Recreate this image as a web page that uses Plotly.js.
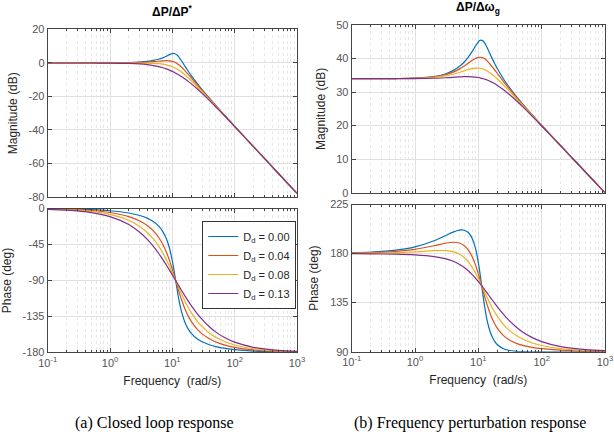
<!DOCTYPE html>
<html><head><meta charset="utf-8">
<script src="https://cdn.plot.ly/plotly-3.0.1.min.js"></script>
<style>html,body{margin:0;padding:0;background:#fff}#chart{width:614px;height:440px}</style>
</head><body><div id="chart"></div>
<script>
// Frequency points (rad/s)
const freq = [0.1,0.2,0.5,1,2,3,4,5,6,7,8,9,10,10.5,11,12,13,14,16,18,20,25,30,40,50,70,100,200,500,1000];

// (a) Closed loop response: magnitude (dB)
const magCL_D000 = [0,0,0.01,0.06,0.23,0.53,0.96,1.53,2.23,3.08,4.03,4.97,5.60,5.68,5.54,4.62,3.09,1.34,-2.03,-4.92,-7.37,-12.20,-15.87,-21.35,-25.45,-31.49,-37.78,-49.89,-65.83,-77.88];
const magCL_D004 = [0,0,0.01,0.04,0.14,0.31,0.53,0.78,1.04,1.26,1.37,1.29,0.97,0.72,0.40,-0.41,-1.39,-2.46,-4.68,-6.81,-8.78,-12.98,-16.37,-21.61,-25.61,-31.56,-37.82,-49.90,-65.83,-77.88];
const magCL_D008 = [0,0,0,0,-0.01,-0.04,-0.11,-0.22,-0.41,-0.70,-1.10,-1.61,-2.23,-2.57,-2.94,-3.72,-4.55,-5.40,-7.13,-8.82,-10.43,-14.03,-17.09,-22.01,-25.86,-31.69,-37.88,-49.92,-65.84,-77.88];
const magCL_D013 = [0,0,-0.02,-0.07,-0.27,-0.59,-1.03,-1.55,-2.16,-2.82,-3.53,-4.27,-5.02,-5.41,-5.79,-6.56,-7.32,-8.08,-9.56,-10.97,-12.33,-15.41,-18.11,-22.63,-26.27,-31.90,-37.99,-49.95,-65.84,-77.88];

// (a) Closed loop response: phase (deg)
const phaseCL_D000 = [-0.27,-0.55,-1.37,-2.76,-5.64,-8.77,-12.33,-16.55,-21.76,-28.49,-37.47,-49.63,-65.60,-74.77,-84.31,-102.55,-117.51,-128.65,-142.73,-150.77,-155.86,-162.95,-166.66,-170.59,-172.67,-174.89,-176.46,-178.25,-179.30,-179.65];
const phaseCL_D004 = [-0.50,-0.99,-2.49,-5.00,-10.15,-15.64,-21.63,-28.33,-35.93,-44.57,-54.28,-64.90,-75.96,-81.47,-86.86,-97.00,-106.01,-113.78,-125.91,-134.56,-140.88,-150.90,-156.73,-163.26,-166.86,-170.77,-173.60,-176.82,-178.73,-179.37];
const phaseCL_D008 = [-0.73,-1.46,-3.65,-7.32,-14.74,-22.36,-30.23,-38.39,-46.79,-55.36,-63.93,-72.32,-80.34,-84.17,-87.86,-94.77,-101.05,-106.69,-116.23,-123.83,-129.92,-140.72,-147.70,-156.15,-161.07,-166.58,-170.64,-175.33,-178.13,-179.07];
const phaseCL_D013 = [-1.01,-2.03,-5.07,-10.12,-20.07,-29.74,-38.99,-47.74,-55.93,-63.56,-70.59,-77.07,-83.02,-85.80,-88.46,-93.44,-98.00,-102.18,-109.54,-115.76,-121.07,-131.36,-138.72,-148.45,-154.56,-161.66,-167.11,-173.53,-177.41,-178.70];

// (b) Frequency perturbation response: magnitude (dB)
const magFP_D000 = [34.00,34.00,34.04,34.16,34.63,35.39,36.39,37.60,38.97,40.50,42.12,43.71,44.97,45.35,45.51,45.17,44.19,42.96,40.57,38.58,36.95,33.91,31.74,28.68,26.48,23.32,20.11,14.01,6.03,0.00];
const magFP_D004 = [34.00,34.00,34.04,34.14,34.54,35.17,35.96,36.85,37.78,38.68,39.46,40.03,40.34,40.39,40.37,40.14,39.71,39.16,37.92,36.69,35.54,33.13,31.24,28.42,26.32,23.25,20.07,14.00,6.03,0.00];
const magFP_D008 = [34.00,34.00,34.03,34.10,34.39,34.82,35.32,35.85,36.33,36.72,36.99,37.13,37.14,37.10,37.03,36.83,36.55,36.22,35.47,34.68,33.89,32.08,30.52,28.02,26.07,23.12,20.01,13.98,6.02,0.00];
const magFP_D013 = [34.00,34.00,34.01,34.03,34.13,34.27,34.40,34.52,34.58,34.60,34.56,34.47,34.35,34.27,34.18,33.99,33.78,33.54,33.04,32.53,31.99,30.70,29.50,27.40,25.66,22.91,19.90,13.95,6.02,0.00];

// (b) Frequency perturbation response: phase (deg)
const phaseFP_D000 = [180.63,181.24,183.10,186.12,191.71,196.34,199.68,201.45,201.39,199.07,193.87,184.95,171.78,163.87,155.50,139.38,126.28,116.78,105.47,99.66,96.40,92.69,91.30,90.32,90.04,89.89,89.88,89.92,89.97,89.98];
const phaseFP_D004 = [180.40,180.80,181.98,183.88,187.20,189.47,190.38,189.67,187.22,182.99,177.06,169.68,161.42,157.17,152.95,144.93,137.78,131.65,122.29,115.87,111.38,104.74,101.23,97.65,95.85,94.01,92.74,91.35,90.54,90.26];
const phaseFP_D008 = [180.17,180.33,180.82,181.56,182.61,182.75,181.78,179.61,176.36,172.20,167.41,162.26,157.04,154.47,151.95,147.16,142.74,138.74,131.97,126.60,122.34,114.92,110.26,104.76,101.64,98.20,95.70,92.84,91.14,90.56];
const phaseFP_D013 = [179.89,179.76,179.40,178.76,177.28,175.37,173.02,170.26,167.22,164.00,160.75,157.51,154.36,152.84,151.35,148.49,145.79,143.25,138.66,134.67,131.19,124.28,119.24,112.46,108.15,103.12,99.23,94.64,91.86,90.93];

// Labels and ticks
const seriesLabels = ['D<sub>d</sub> = 0.00','D<sub>d</sub> = 0.04','D<sub>d</sub> = 0.08','D<sub>d</sub> = 0.13'];
const xTickVals = [0.1, 1, 10, 100, 1000];
const xTickText = ['10<sup>-1</sup>','10<sup>0</sup>','10<sup>1</sup>','10<sup>2</sup>','10<sup>3</sup>'];
const magCLTicks = [-80,-60,-40,-20,0,20];
const phaseCLTicks = [-180,-135,-90,-45,0];
const magFPTicks = [0,10,20,30,40,50];
const phaseFPTicks = [90,135,180,225];
const titleCL = '<b>ΔP/ΔP<sup>*</sup></b>';
const titleFP = '<b>ΔP/Δω<sub>g</sub></b>';
const captionA = '(a) Closed loop response';
const captionB = '(b) Frequency perturbation response';

// Styles
const colors = ['#0072BD','#D95319','#EDB120','#7E2F8E'];
const axisColor = '#444444';
const sans = 'Liberation Sans, Arial, Helvetica, sans-serif';

const panels = [
  {xa:'x',  ya:'y',  data:[magCL_D000,magCL_D004,magCL_D008,magCL_D013], legend:false},
  {xa:'x2', ya:'y2', data:[phaseCL_D000,phaseCL_D004,phaseCL_D008,phaseCL_D013], legend:true},
  {xa:'x3', ya:'y3', data:[magFP_D000,magFP_D004,magFP_D008,magFP_D013], legend:false},
  {xa:'x4', ya:'y4', data:[phaseFP_D000,phaseFP_D004,phaseFP_D008,phaseFP_D013], legend:false}
];
const traces = [];
panels.forEach(p => {
  p.data.forEach((ys, i) => {
    traces.push({
      x: freq, y: ys, xaxis: p.xa, yaxis: p.ya, type: 'scatter', mode: 'lines',
      name: seriesLabels[i], showlegend: p.legend,
      line: {color: colors[i], width: 1.2, shape: 'spline', smoothing: 0.8},
      hoverinfo: 'skip'
    });
  });
});

function xAx(domain, anchor, withLabels) {
  const ax = {
    type: 'log', domain: domain, anchor: anchor, range: [-1, 3],
    tickmode: 'array', tickvals: xTickVals, ticktext: xTickText,
    showticklabels: withLabels, ticks: 'inside', ticklen: 4, tickcolor: axisColor,
    showline: true, mirror: 'allticks', linecolor: axisColor, linewidth: 1,
    showgrid: true, gridcolor: '#e0e0e0', gridwidth: 1, zeroline: false,
    tickfont: {family: sans, size: 11, color: '#555555'},
    minor: {tickmode: 'linear', dtick: 'D1', ticks: 'inside', ticklen: 2, tickcolor: axisColor,
            showgrid: true, gridcolor: '#e8e8e8', griddash: 'dot', gridwidth: 1}
  };
  if (withLabels) ax.title = {text: 'Frequency\u00a0 (rad/s)', standoff: 8, font: {family: sans, size: 12, color: '#262626'}};
  return ax;
}
function yAx(domain, anchor, range, ticks, title) {
  return {
    domain: domain, anchor: anchor, range: range,
    tickmode: 'array', tickvals: ticks, ticktext: ticks.map(String),
    ticks: 'inside', ticklen: 4, tickcolor: axisColor,
    showline: true, mirror: 'allticks', linecolor: axisColor, linewidth: 1,
    showgrid: true, gridcolor: '#e0e0e0', gridwidth: 1, zeroline: false,
    tickfont: {family: sans, size: 11, color: '#555555'},
    title: {text: title, standoff: 8, font: {family: sans, size: 12, color: '#262626'}}
  };
}

const layout = {
  width: 614, height: 440,
  margin: {l: 0, r: 0, t: 0, b: 0},
  paper_bgcolor: '#ffffff', plot_bgcolor: '#ffffff',
  showlegend: true,
  xaxis:  xAx([0.0777, 0.4837], 'y',  false),
  xaxis2: xAx([0.0777, 0.4837], 'y2', true),
  xaxis3: xAx([0.5728, 0.9853], 'y3', false),
  xaxis4: xAx([0.5728, 0.9853], 'y4', true),
  yaxis:  yAx([0.5523, 0.9330], 'x',  [-80, 20], magCLTicks, 'Magnitude (dB)'),
  yaxis2: yAx([0.1989, 0.5261], 'x2', [-180, 0], phaseCLTicks, 'Phase (deg)'),
  yaxis3: yAx([0.5620, 0.9432], 'x3', [0, 50], magFPTicks, 'Magnitude (dB)'),
  yaxis4: yAx([0.2007, 0.5352], 'x4', [90, 225], phaseFPTicks, 'Phase (deg)'),
  legend: {
    x: 0.3295, y: 0.4977, xanchor: 'left', yanchor: 'top',
    bgcolor: '#ffffff', bordercolor: '#333333', borderwidth: 1,
    font: {family: sans, size: 11, color: '#262626'}, tracegroupgap: 0
  },
  annotations: [
    {text: titleCL, xref: 'paper', yref: 'paper', x: 0.2806, y: 0.952, xanchor: 'center', yanchor: 'bottom', showarrow: false,
     font: {family: sans, size: 12, color: '#000000'}},
    {text: titleFP, xref: 'paper', yref: 'paper', x: 0.779, y: 0.959, xanchor: 'center', yanchor: 'bottom', showarrow: false,
     font: {family: sans, size: 12, color: '#000000'}},
    {text: captionA, xref: 'paper', yref: 'paper', x: 0.2524, y: 0.0386, xanchor: 'center', yanchor: 'middle', showarrow: false,
     font: {family: 'Liberation Serif, Times New Roman, serif', size: 16, color: '#000000'}},
    {text: captionB, xref: 'paper', yref: 'paper', x: 0.7655, y: 0.0386, xanchor: 'center', yanchor: 'middle', showarrow: false,
     font: {family: 'Liberation Serif, Times New Roman, serif', size: 16, color: '#000000'}}
  ]
};

Plotly.newPlot('chart', traces, layout, {staticPlot: true, displayModeBar: false});
</script></body></html>
